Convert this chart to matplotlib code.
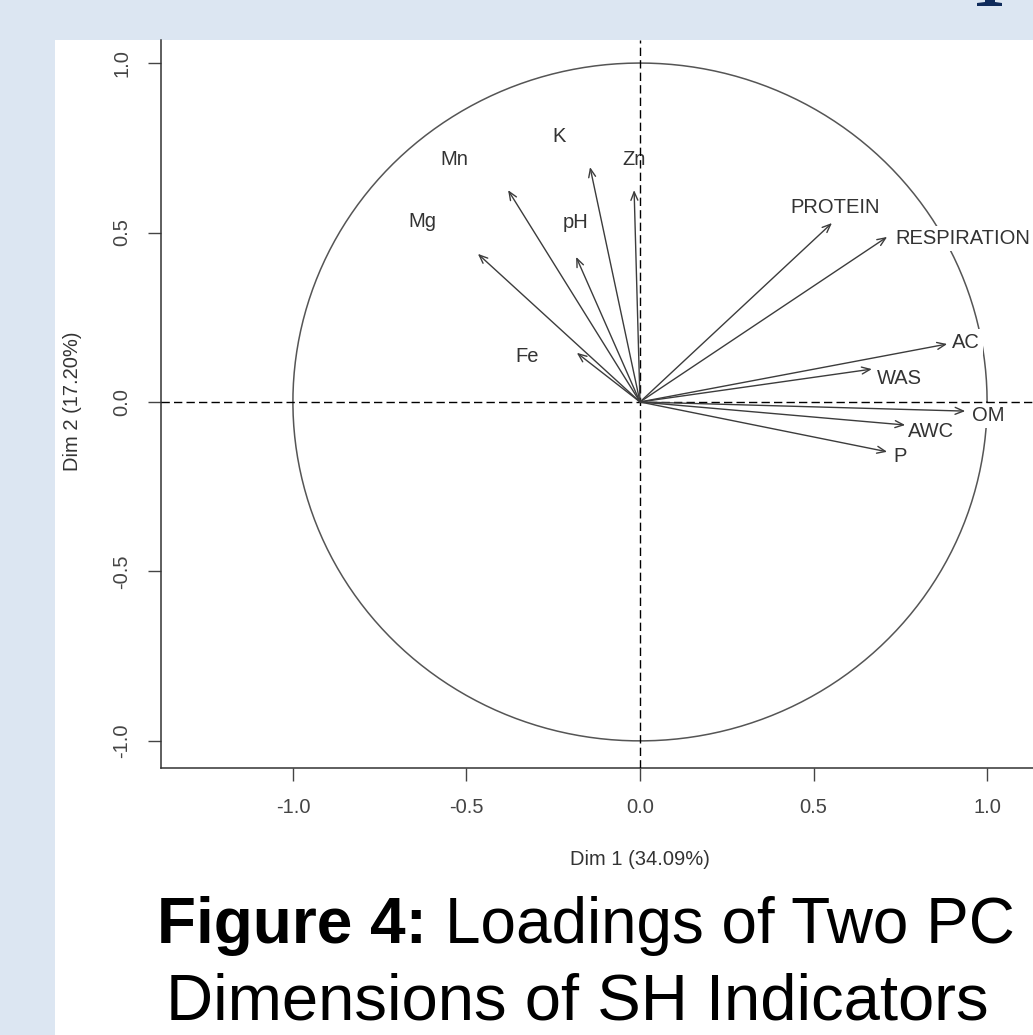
"""Variables factor map (PCA loadings) of soil health indicators."""
import numpy as np
import matplotlib
matplotlib.use("Agg")
import matplotlib.pyplot as plt
from matplotlib.patches import Rectangle, Polygon

plt.rcParams['font.family'] = ['Liberation Sans', 'DejaVu Sans']

W, H = 1033, 1035

# Loadings
names = ["Mg", "Mn", "K", "Zn", "pH", "Fe",
         "PROTEIN", "RESPIRATION", "AC", "WAS", "OM", "AWC", "P"]
dim1 = [-0.467, -0.380, -0.144, -0.017, -0.184, -0.182,
        0.553, 0.712, 0.885, 0.668, 0.937, 0.764, 0.712]
dim2 = [0.437, 0.625, 0.693, 0.625, 0.428, 0.145,
        0.528, 0.487, 0.171, 0.097, -0.027, -0.068, -0.147]

ticks = [-1.0, -0.5, 0.0, 0.5, 1.0]
tick_labels = ["-1.0", "-0.5", "0.0", "0.5", "1.0"]
xlabel = "Dim 1 (34.09%)"
ylabel = "Dim 2 (17.20%)"

# label placement relative to arrow tip (pixels, y up) and alignment
label_offsets = {
    "Mg": (-56, 32, "center"), "Mn": (-54, 31, "center"),
    "K": (-31, 31, "center"), "Zn": (0, 31, "center"),
    "pH": (-1, 34, "center"), "Fe": (-50, -4, "center"),
    "PROTEIN": (3, 16, "center"), "RESPIRATION": (8, -2, "left"),
    "AC": (5, 2, "left"), "WAS": (5, -9, "left"),
    "OM": (7, -4, "left"), "AWC": (3, -6, "left"), "P": (6, -5, "left"),
}


def fx(px):
    return px / W


def fy(py):
    return (H - py) / H


fig = plt.figure(figsize=(W / 100, H / 100), dpi=100, facecolor='#DCE6F2')

# white panel
fig.patches.append(Rectangle((fx(55), 0), 1, fy(40), transform=fig.transFigure,
                             facecolor='white', edgecolor='none', zorder=-5))

# foot of a cropped heading letter at the top right
foot = [(985, 0), (995, 0), (995, 2), (1002, 3), (1002, 6), (977, 6), (977, 3), (985, 2)]
fig.patches.append(Polygon([(fx(a), fy(b)) for a, b in foot], closed=True,
                           transform=fig.transFigure, facecolor='#0F2B5B',
                           edgecolor='none', zorder=-4))

# axes: left 161px, bottom 768px, top 40px, right off the figure
ax = fig.add_axes([fx(161), fy(768), (1119 - 161) / W, (768 - 40) / H])
ax.set_zorder(2)
ax.set_xlim(-1.38, 1.38)
ax.set_ylim(-1.08, 1.068)
ax.patch.set_alpha(0)

# unit circle
t = np.linspace(0, 2 * np.pi, 400)
ax.plot(np.cos(t), np.sin(t), color='#555555', lw=1.1, zorder=1)

ax.axhline(0, color='black', lw=1.0, dashes=(6, 3), zorder=3)
ax.axvline(0, color='black', lw=1.0, dashes=(6, 3), zorder=3)

for name, x, y in zip(names, dim1, dim2):
    ax.annotate("", xy=(x, y), xytext=(0, 0), zorder=3,
                arrowprops=dict(arrowstyle='->,head_length=0.6,head_width=0.25',
                                color='#3c3c3c', lw=1.0, shrinkA=0, shrinkB=0))
    dx, dy, ha = label_offsets[name]
    ax.annotate(name, xy=(x, y), xytext=(dx, dy), textcoords='offset pixels',
                ha=ha, va='center', fontsize=14.5, color='#333333', zorder=2,
                bbox=dict(boxstyle='square,pad=0.15', facecolor='white',
                          edgecolor='none'))

ax.set_xticks(ticks, tick_labels)
ax.set_yticks(ticks, tick_labels)
ax.tick_params(axis='both', direction='out', length=9.4, width=1.0,
               pad=12, labelsize=14.5, colors='#444444')
ax.tick_params(axis='y', labelrotation=90)
for lab in ax.get_yticklabels():
    lab.set_va('center')

for side in ['top', 'right']:
    ax.spines[side].set_visible(False)
for side in ['left', 'bottom']:
    ax.spines[side].set_color('#333333')
    ax.spines[side].set_linewidth(1.1)

ax.set_xlabel(xlabel, fontsize=14.5, color='#333333')
ax.xaxis.set_label_coords(0.5, -(850 - 768) / 728)
ax.set_ylabel(ylabel, fontsize=14.5, color='#333333')
ax.yaxis.set_label_coords((82 - 161) / 958, (768 - 401) / 728)

# caption
fig.text(fx(427), fy(943), "Figure 4:", fontsize=46, fontweight='bold',
         ha='right', va='baseline', color='black')
fig.text(fx(445), fy(943), "Loadings of Two PC", fontsize=46,
         ha='left', va='baseline', color='black')
fig.text(fx(577), fy(1020), "Dimensions of SH Indicators", fontsize=47,
         ha='center', va='baseline', color='black')

fig.savefig("out.png", dpi=100, facecolor=fig.get_facecolor())
